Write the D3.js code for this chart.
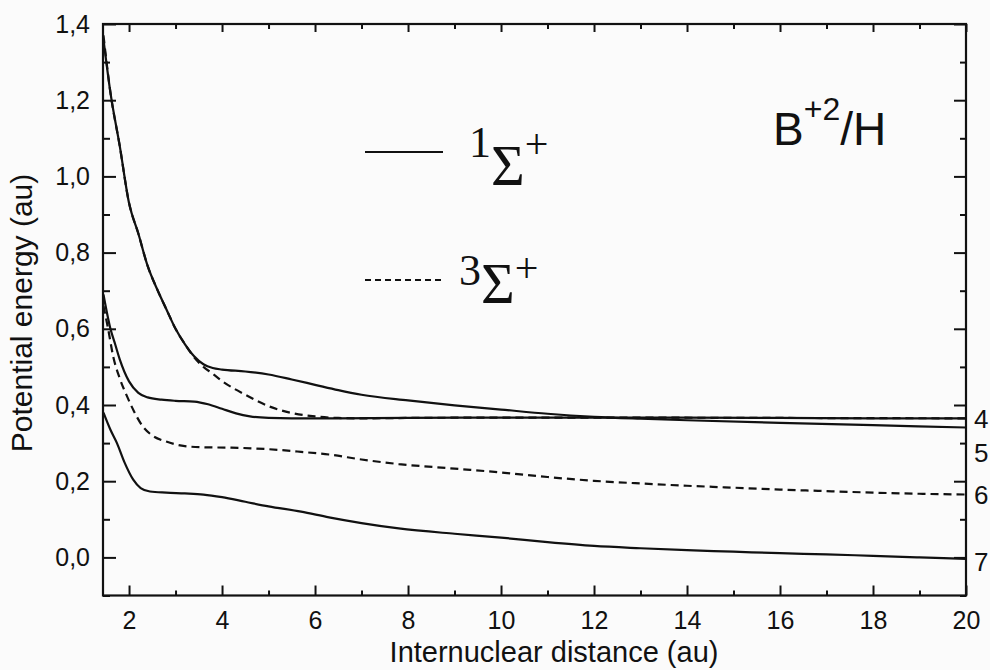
<!DOCTYPE html>
<html><head><meta charset="utf-8">
<script src="https://cdn.jsdelivr.net/npm/d3@7"></script>
<style>
html,body{margin:0;padding:0;background:#fbfbfb;}
svg{display:block;}
</style></head>
<body>
<svg id="chart" width="990" height="670"></svg>
<script>
// ---- data ----
const singletUpper = [[1.45,1.36],[1.6,1.22],[1.8,1.08],[2.0,0.93],[2.2,0.85],[2.4,0.765],[2.6,0.705],[2.8,0.652],[3.0,0.60],[3.2,0.56],[3.4,0.528],[3.6,0.507],[3.8,0.497],[4.0,0.493],[4.5,0.488],[5.0,0.48],[5.5,0.467],[6.0,0.453],[6.5,0.439],[7,0.427],[8,0.412],[9,0.399],[10,0.388],[11,0.377],[12,0.369],[13,0.364],[14,0.36],[16,0.353],[18,0.347],[20,0.341]];
const singletMiddle = [[1.45,0.69],[1.6,0.60],[1.7,0.56],[1.8,0.52],[2.0,0.462],[2.2,0.432],[2.4,0.42],[2.7,0.414],[3.0,0.411],[3.4,0.409],[3.7,0.402],[4.0,0.39],[4.3,0.378],[4.6,0.37],[5.0,0.366],[5.5,0.365],[6,0.365],[8,0.366],[10,0.367],[12,0.367],[14,0.367],[16,0.366],[18,0.365],[20,0.365]];
const tripletUpper = [[1.45,1.37],[1.6,1.22],[1.8,1.08],[2.0,0.93],[2.2,0.85],[2.4,0.765],[2.6,0.705],[2.8,0.652],[3.0,0.60],[3.2,0.56],[3.4,0.525],[3.6,0.50],[3.8,0.482],[4.0,0.463],[4.5,0.427],[5.0,0.397],[5.5,0.379],[6.0,0.37],[6.5,0.366],[7,0.365],[8,0.366],[10,0.367],[12,0.367],[16,0.366],[20,0.365]];
const tripletLower = [[1.45,0.66],[1.55,0.60],[1.66,0.527],[1.8,0.47],[1.96,0.422],[2.1,0.385],[2.3,0.343],[2.5,0.32],[2.8,0.304],[3.2,0.292],[3.6,0.289],[4.2,0.288],[5.0,0.284],[5.7,0.277],[6.3,0.27],[7,0.257],[7.8,0.245],[9,0.233],[10,0.223],[11,0.211],[12,0.201],[13,0.194],[14,0.188],[15,0.183],[16,0.178],[17,0.174],[18,0.170],[19,0.167],[20,0.165]];
const singletLower = [[1.45,0.38],[1.6,0.335],[1.74,0.30],[1.9,0.25],[2.09,0.204],[2.25,0.182],[2.45,0.173],[2.8,0.170],[3.2,0.168],[3.6,0.165],[4.0,0.158],[4.5,0.146],[5.0,0.134],[5.7,0.12],[6.3,0.105],[7,0.09],[7.8,0.076],[9,0.062],[10,0.052],[11,0.04],[12,0.03],[13,0.024],[14,0.019],[15,0.015],[16,0.011],[17,0.008],[18,0.004],[19,0.0],[20,-0.004]];

const xMajorTicks = [2,4,6,8,10,12,14,16,18,20];
const xMinorTicks = [3,5,7,9,11,13,15,17,19];
const yMajorTicks = [0,0.2,0.4,0.6,0.8,1.0,1.2,1.4];
const yMinorTicks = [-0.1,0.1,0.3,0.5,0.7,0.9,1.1,1.3];
const yTickLabels = ["0,0","0,2","0,4","0,6","0,8","1,0","1,2","1,4"];
const curveNumbers = [{t:"4", v:0.365},{t:"5", v:0.276},{t:"6", v:0.164},{t:"7", v:-0.01}];

// ---- layout ----
const W = 990, H = 670;
const L = 103, R = 966, T = 24, B = 595.5;
const svg = d3.select("#chart");
const x = d3.scaleLinear().domain([1.44, 20]).range([L, R]);
const y = d3.scaleLinear().domain([-0.1, 1.4]).range([B, T]);
const ink = "#111";
const sans = "'Liberation Sans', Arial, sans-serif";
const serif = "'Liberation Serif', 'Times New Roman', serif";

svg.append("rect").attr("width", W).attr("height", H).attr("fill", "#fbfbfb");

function styleAxis(g){
  g.select(".domain").remove();
  g.selectAll(".tick line").attr("stroke", ink).attr("stroke-width", 2);
  g.selectAll("text").attr("fill", ink).style("font-family", sans).style("font-size", "25px");
}

// bottom
svg.append("g").attr("transform", `translate(0,${B})`)
  .call(d3.axisBottom(x).tickValues(xMajorTicks).tickSize(-10).tickPadding(16).tickFormat(d3.format("d")))
  .call(styleAxis);
svg.append("g").attr("transform", `translate(0,${B})`)
  .call(d3.axisBottom(x).tickValues(xMinorTicks).tickSize(-5).tickFormat(""))
  .call(styleAxis);
// top
svg.append("g").attr("transform", `translate(0,${T})`)
  .call(d3.axisTop(x).tickValues(xMajorTicks).tickSize(-8).tickFormat(""))
  .call(styleAxis);
svg.append("g").attr("transform", `translate(0,${T})`)
  .call(d3.axisTop(x).tickValues(xMinorTicks).tickSize(-5).tickFormat(""))
  .call(styleAxis);
// left
svg.append("g").attr("transform", `translate(${L},0)`)
  .call(d3.axisLeft(y).tickValues(yMajorTicks).tickSize(-13).tickPadding(13)
        .tickFormat((d,i) => yTickLabels[i]))
  .call(styleAxis);
svg.append("g").attr("transform", `translate(${L},0)`)
  .call(d3.axisLeft(y).tickValues(yMinorTicks).tickSize(-7).tickFormat(""))
  .call(styleAxis);
// right
svg.append("g").attr("transform", `translate(${R},0)`)
  .call(d3.axisRight(y).tickValues(yMajorTicks).tickSize(-12).tickFormat(""))
  .call(styleAxis);
svg.append("g").attr("transform", `translate(${R},0)`)
  .call(d3.axisRight(y).tickValues(yMinorTicks).tickSize(-6).tickFormat(""))
  .call(styleAxis);

// frame
svg.append("rect").attr("x", L).attr("y", T).attr("width", R - L).attr("height", B - T)
  .attr("fill", "none").attr("stroke", ink).attr("stroke-width", 2.2);

// curves
const line = d3.line().x(d => x(d[0])).y(d => y(d[1])).curve(d3.curveMonotoneX);
const series = [
  {d: singletUpper, dash: null},
  {d: singletMiddle, dash: null},
  {d: singletLower, dash: null},
  {d: tripletUpper, dash: "8,5"},
  {d: tripletLower, dash: "8,5"}
];
svg.append("g").selectAll("path").data(series).join("path")
  .attr("d", s => line(s.d))
  .attr("fill", "none").attr("stroke", ink).attr("stroke-width", 2.2)
  .attr("stroke-dasharray", s => s.dash);

// curve numbers on the right
svg.append("g").selectAll("text").data(curveNumbers).join("text")
  .attr("x", R + 8).attr("y", d => y(d.v)).attr("dy", "0.36em")
  .attr("fill", ink).style("font-family", sans).style("font-size", "26px")
  .text(d => d.t);

// axis titles
svg.append("text").attr("x", 554).attr("y", 662).attr("text-anchor", "middle")
  .attr("fill", ink).style("font-family", sans).style("font-size", "29px")
  .text("Internuclear distance (au)");
svg.append("text").attr("transform", "translate(32,313) rotate(-90)").attr("text-anchor", "middle")
  .attr("fill", ink).style("font-family", sans).style("font-size", "30px")
  .text("Potential energy (au)");

// title B+2/H
const title = svg.append("text").attr("x", 773).attr("y", 145).attr("fill", ink).style("font-family", sans);
title.append("tspan").style("font-size", "46px").text("B");
title.append("tspan").style("font-size", "32px").attr("dy", -25).text("+2");
title.append("tspan").style("font-size", "46px").attr("dy", 25).text("/H");

// legend
const leg = svg.append("g");
leg.append("line").attr("x1", 365).attr("x2", 443).attr("y1", 152).attr("y2", 152)
  .attr("stroke", ink).attr("stroke-width", 2);
leg.append("line").attr("x1", 365).attr("x2", 442).attr("y1", 280).attr("y2", 280)
  .attr("stroke", ink).attr("stroke-width", 2).attr("stroke-dasharray", "6,4");
function legLabel(sup, x0, yBase, sigDrop, plusRise){
  const t = leg.append("text").attr("x", x0).attr("y", yBase).attr("fill", ink)
    .style("font-family", serif);
  t.append("tspan").style("font-size", "44px").text(sup);
  t.append("tspan").style("font-size", "58px").attr("dy", sigDrop).text("\u03A3");
  t.append("tspan").style("font-size", "42px").attr("dy", -plusRise).text("+");
}
legLabel("1", 469, 157, 28, 27);
legLabel("3", 459, 285, 18, 21);
</script>
</body></html>
